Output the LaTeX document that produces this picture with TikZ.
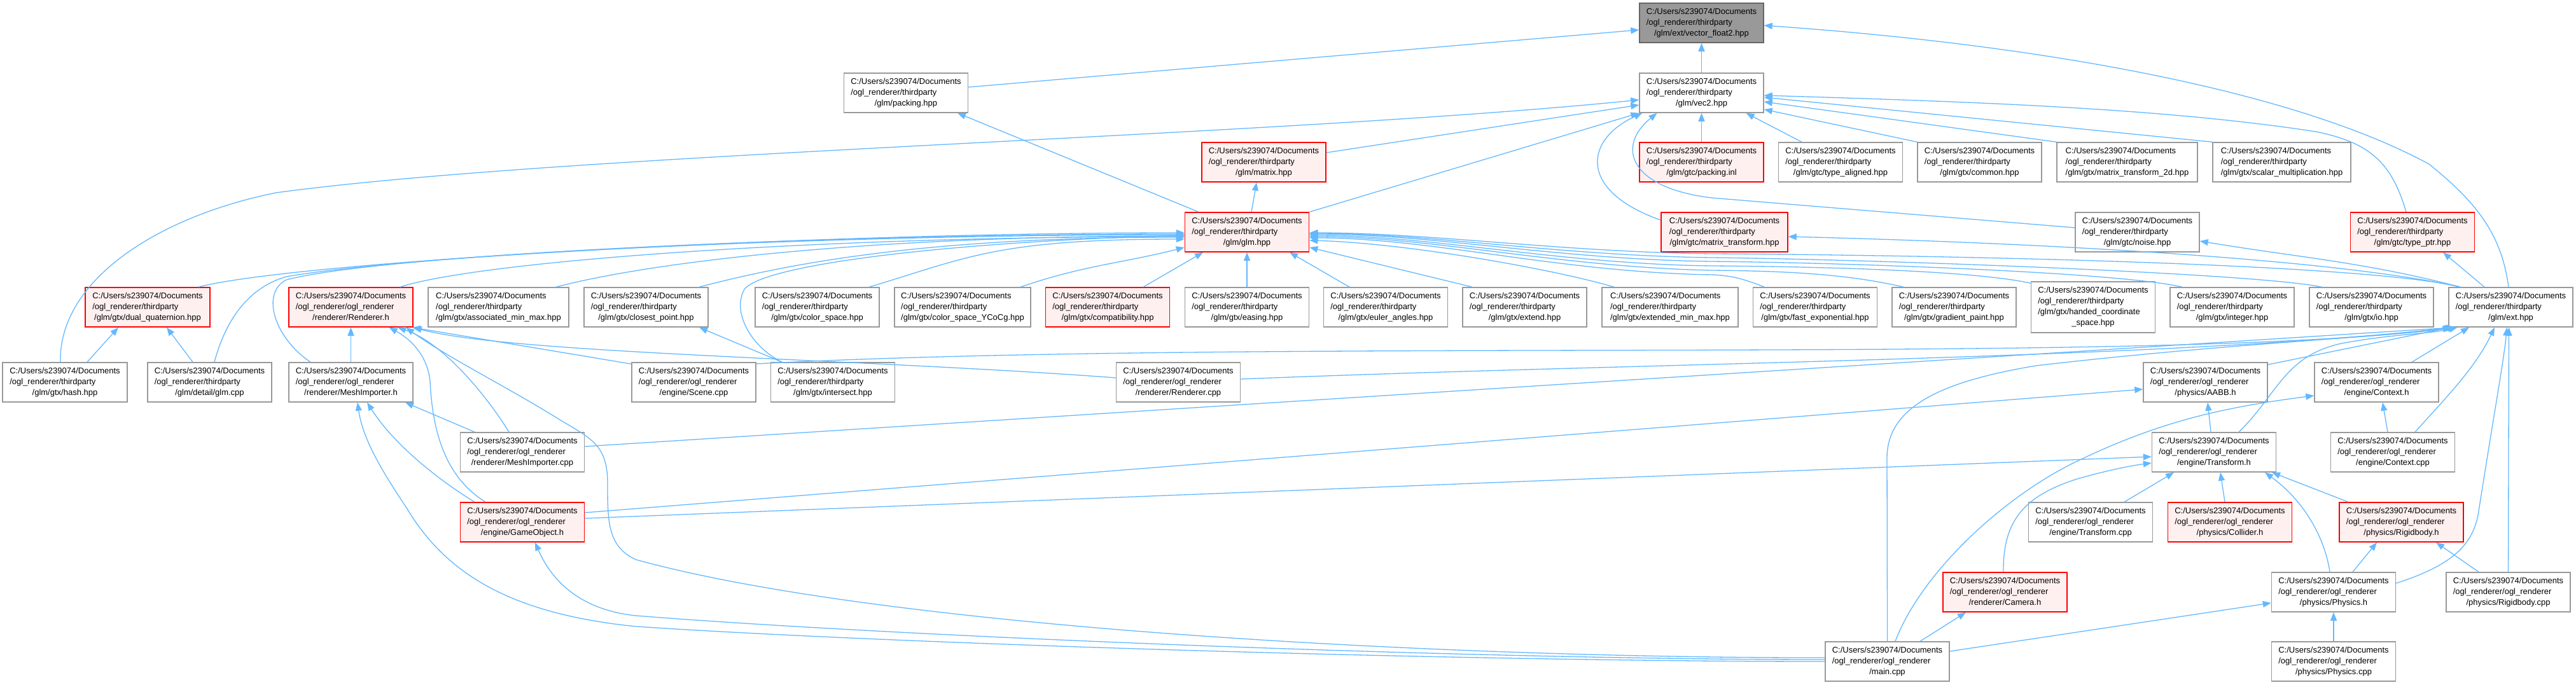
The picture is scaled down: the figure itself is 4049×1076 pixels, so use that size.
\documentclass[tikz,border=0pt]{standalone}
\usepackage{fontspec}
\setmainfont{Liberation Sans}
\usetikzlibrary{arrows.meta}
\definecolor{edgeblue}{HTML}{63B8FF}
\definecolor{boxgray}{HTML}{999999}
\definecolor{boxred}{HTML}{FF0000}
\definecolor{redfill}{HTML}{FFF0F0}
\definecolor{rootfill}{HTML}{999999}
\definecolor{rootline}{HTML}{666666}
\newcommand\lbl[3]{\begin{tabular}{@{}l@{}}#1\\#2\\\multicolumn{1}{@{}c@{}}{#3}\end{tabular}}
\newcommand\lblq[4]{\begin{tabular}{@{}l@{}}#1\\#2\\#3\\\multicolumn{1}{@{}c@{}}{#4}\end{tabular}}
\newcommand\cud{C:/Users/s239074/Documents}
\newcommand\otp{/ogl\_renderer/thirdparty}
\newcommand\oor{/ogl\_renderer/ogl\_renderer}
\tikzset{
  box/.style={draw=boxgray, fill=white, line width=1.5pt, inner sep=0pt,
    minimum width=195pt, minimum height=62pt, font=\fontsize{13}{17}\selectfont},
  redbox/.style={box, draw=boxred, fill=redfill},
  rootbox/.style={box, draw=rootline, fill=rootfill},
  wd/.style={minimum width=#1pt},
  edge/.style={draw=edgeblue, line width=1.3pt, -{Triangle[length=13pt,width=10pt]}}
}
\begin{document}
\begin{tikzpicture}[x=1pt,y=-1pt]
\useasboundingbox (0,0) rectangle (4049,1076);
% row 0
\node[rootbox] (vf2) at (2674.5,36) {\lbl{\cud}{\otp}{/glm/ext/vector\_float2.hpp}};
% row 1
\node[box] (packing) at (1424,146) {\lbl{\cud}{\otp}{/glm/packing.hpp}};
\node[box] (vec2) at (2674.5,146) {\lbl{\cud}{\otp}{/glm/vec2.hpp}};
% row 2
\node[redbox] (matrix) at (1986.5,255) {\lbl{\cud}{\otp}{/glm/matrix.hpp}};
\node[redbox] (packinl) at (2674.5,255) {\lbl{\cud}{\otp}{/glm/gtc/packing.inl}};
\node[box] (typealigned) at (2893,255) {\lbl{\cud}{\otp}{/glm/gtc/type\_aligned.hpp}};
\node[box] (common) at (3111.5,255) {\lbl{\cud}{\otp}{/glm/gtx/common.hpp}};
\node[box,wd=221] (mtwod) at (3343.5,255) {\lbl{\cud}{\otp}{/glm/gtx/matrix\_transform\_2d.hpp}};
\node[box,wd=217] (scalarmult) at (3586.5,255) {\lbl{\cud}{\otp}{/glm/gtx/scalar\_multiplication.hpp}};
% row 3
\node[redbox] (glm) at (1960,365) {\lbl{\cud}{\otp}{/glm/glm.hpp}};
\node[redbox,wd=199] (gtcmt) at (2710.5,365) {\lbl{\cud}{\otp}{/glm/gtc/matrix\_transform.hpp}};
\node[box] (noise) at (3359.5,365) {\lbl{\cud}{\otp}{/glm/gtc/noise.hpp}};
\node[redbox] (typeptr) at (3792,365) {\lbl{\cud}{\otp}{/glm/gtc/type\_ptr.hpp}};
% row 4
\node[redbox,wd=196] (dualq) at (232,483) {\lbl{\cud}{\otp}{/glm/gtx/dual\_quaternion.hpp}};
\node[redbox] (rendh) at (551.5,483) {\lbl{\cud}{\oor}{/renderer/Renderer.h}};
\node[box,wd=221] (assoc) at (783.5,483) {\lbl{\cud}{\otp}{/glm/gtx/associated\_min\_max.hpp}};
\node[box] (closest) at (1015.5,483) {\lbl{\cud}{\otp}{/glm/gtx/closest\_point.hpp}};
\node[box] (colorsp) at (1284.5,483) {\lbl{\cud}{\otp}{/glm/gtx/color\_space.hpp}};
\node[box,wd=214] (ycocg) at (1513,483) {\lbl{\cud}{\otp}{/glm/gtx/color\_space\_YCoCg.hpp}};
\node[redbox] (compat) at (1741,483) {\lbl{\cud}{\otp}{/glm/gtx/compatibility.hpp}};
\node[box] (easing) at (1960,483) {\lbl{\cud}{\otp}{/glm/gtx/easing.hpp}};
\node[box] (euler) at (2178,483) {\lbl{\cud}{\otp}{/glm/gtx/euler\_angles.hpp}};
\node[box] (extend) at (2396.5,483) {\lbl{\cud}{\otp}{/glm/gtx/extend.hpp}};
\node[box,wd=214] (extminmax) at (2625,483) {\lbl{\cud}{\otp}{/glm/gtx/extended\_min\_max.hpp}};
\node[box] (fastexp) at (2853,483) {\lbl{\cud}{\otp}{/glm/gtx/fast\_exponential.hpp}};
\node[box] (gradient) at (3071.5,483) {\lbl{\cud}{\otp}{/glm/gtx/gradient\_paint.hpp}};
\node[box,minimum height=80pt] (handed) at (3290,483) {\lblq{\cud}{\otp}{/glm/gtx/handed\_coordinate}{\_space.hpp}};
\node[box] (integer) at (3508.5,483) {\lbl{\cud}{\otp}{/glm/gtx/integer.hpp}};
\node[box] (io) at (3727.5,483) {\lbl{\cud}{\otp}{/glm/gtx/io.hpp}};
\node[box] (ext) at (3946.5,483) {\lbl{\cud}{\otp}{/glm/ext.hpp}};
% row 5
\node[box,wd=196] (hash) at (102,601) {\lbl{\cud}{\otp}{/glm/gtx/hash.hpp}};
\node[box] (glmcpp) at (329.5,601) {\lbl{\cud}{\otp}{/glm/detail/glm.cpp}};
\node[box] (meshh) at (551.5,601) {\lbl{\cud}{\oor}{/renderer/MeshImporter.h}};
\node[box] (scene) at (1090.5,601) {\lbl{\cud}{\oor}{/engine/Scene.cpp}};
\node[box] (intersect) at (1309,601) {\lbl{\cud}{\otp}{/glm/gtx/intersect.hpp}};
\node[box] (rendcpp) at (1852,601) {\lbl{\cud}{\oor}{/renderer/Renderer.cpp}};
\node[box] (aabb) at (3466.5,601) {\lbl{\cud}{\oor}{/physics/AABB.h}};
\node[box] (contexth) at (3735.5,601) {\lbl{\cud}{\oor}{/engine/Context.h}};
% row 6
\node[box] (meshcpp) at (821,711) {\lbl{\cud}{\oor}{/renderer/MeshImporter.cpp}};
\node[box] (transformh) at (3480,711) {\lbl{\cud}{\oor}{/engine/Transform.h}};
\node[box] (contextcpp) at (3761,711) {\lbl{\cud}{\oor}{/engine/Context.cpp}};
% row 7
\node[redbox] (gameobj) at (821,821) {\lbl{\cud}{\oor}{/engine/GameObject.h}};
\node[box] (transformcpp) at (3286,821) {\lbl{\cud}{\oor}{/engine/Transform.cpp}};
\node[redbox] (collider) at (3505,821) {\lbl{\cud}{\oor}{/physics/Collider.h}};
\node[redbox] (rigidh) at (3774.5,821) {\lbl{\cud}{\oor}{/physics/Rigidbody.h}};
% row 8
\node[redbox] (camera) at (3151.5,931) {\lbl{\cud}{\oor}{/renderer/Camera.h}};
\node[box] (physicsh) at (3668,931) {\lbl{\cud}{\oor}{/physics/Physics.h}};
\node[box] (rigidcpp) at (3942.5,931) {\lbl{\cud}{\oor}{/physics/Rigidbody.cpp}};
% row 9
\node[box] (maincpp) at (2966.5,1040) {\lbl{\cud}{\oor}{/main.cpp}};
\node[box] (physicscpp) at (3668,1040) {\lbl{\cud}{\oor}{/physics/Physics.cpp}};

% ---------- edges ----------
\draw[edge] ([yshift=9pt]packing.east) -- ([yshift=-11pt]vf2.west);
\draw[edge] (vec2) -- (vf2);
\draw[edge] ([xshift=-3.5pt]ext.north) .. controls (3932,370) and (3895,320) .. (3818,258) .. controls (3600,140) and (3200,70) .. ([yshift=-4pt]vf2.east);
\draw[edge] ([yshift=15pt]matrix.east) -- ([yshift=-19pt]vec2.west);
\draw[edge] (glm.north east) -- (vec2.south west);
\draw[edge] ([xshift=-7pt]hash.north) .. controls (92,440) and (250,340) .. (434,303) .. controls (900,240) and (2000,215) .. ([yshift=-11pt]vec2.west);
\draw[edge] (packinl) -- (vec2);
\draw[edge] ([xshift=-61pt]typealigned.north) -- ([xshift=70pt]vec2.south);
\draw[edge] (common.north west) -- ([yshift=-26pt]vec2.east);
\draw[edge] (mtwod.north west) -- ([yshift=-14pt]vec2.east);
\draw[edge] (scalarmult.north west) -- ([yshift=-7pt]vec2.east);
\draw[edge] ([xshift=-10pt]typeptr.north) .. controls (3760,260) and (3730,225) .. (3640,207) .. controls (3400,170) and (3100,160) .. ([yshift=-4pt]vec2.east);
\draw[edge] ([yshift=19pt]gtcmt.west) .. controls (2480,300) and (2490,220) .. ([xshift=5pt]vec2.south west);
\draw[edge] ([yshift=7pt]noise.west) -- (2690,311) .. controls (2560,295) and (2540,230) .. ([xshift=-70pt]vec2.south);
\draw[edge] ([xshift=-76pt]glm.north) -- ([xshift=81pt]packing.south);
\draw[edge] ([xshift=7pt]glm.north) -- ([xshift=-11.5pt]matrix.south);
% into glm (left)
\draw[edge] ([xshift=80pt]dualq.north) .. controls (462,412) and (1263,366) .. ([yshift=-1pt]glm.west);
\draw[edge] ([xshift=77.5pt]rendh.north) .. controls (749,412) and (1263,372) .. ([yshift=-7pt]glm.west);
\draw[edge] ([xshift=-63.5pt]meshh.north) .. controls (430,530) and (410,460) .. (450,440) .. controls (600,400) and (1300,368) .. ([yshift=-3pt]glm.west);
\draw[edge] ([xshift=7.5pt]glmcpp.north) .. controls (350,520) and (380,455) .. (450,435) .. controls (650,400) and (1300,369) .. ([yshift=-4pt]glm.west);
\draw[edge] ([xshift=-80pt]intersect.north) .. controls (1180,545) and (1150,490) .. (1170,455) .. controls (1200,415) and (1500,380) .. ([yshift=-5pt]glm.west);
\draw[edge] ([xshift=90.5pt]assoc.north) .. controls (1024,412) and (1363,371) .. ([yshift=-6pt]glm.west);
\draw[edge] ([xshift=83.5pt]closest.north) .. controls (1249,412) and (1463,373) .. ([yshift=-8pt]glm.west);
\draw[edge] ([xshift=81.5pt]colorsp.north) .. controls (1516,407) and (1563,376) .. ([yshift=-11pt]glm.west);
\draw[edge] ([xshift=91pt]ycocg.north) .. controls (1704,417) and (1763,414) .. ([yshift=-24pt]glm.west);
\draw[edge] ([xshift=56pt]compat.north) -- ([xshift=-69pt]glm.south);
\draw[edge] (easing) -- (glm);
% into glm (right)
\draw[edge] ([xshift=-57pt]euler.north) -- ([xshift=67pt]glm.south);
\draw[edge] ([xshift=-82.5pt]extend.north) -- ([yshift=-24pt]glm.east);
\draw[edge] ([xshift=-88pt]extminmax.north) .. controls (2437,422) and (2207,382) .. ([yshift=-13pt]glm.east);
\draw[edge] ([xshift=-80pt]fastexp.north) .. controls (2740,438) and (2720,433) .. (2690,432) .. controls (2450,428) and (2250,374) .. ([yshift=-9pt]glm.east);
\draw[edge] ([xshift=-79.5pt]gradient.north) .. controls (2900,430) and (2800,426) .. (2690,425) .. controls (2450,420) and (2250,372) .. ([yshift=-7pt]glm.east);
\draw[edge] ([yshift=-3pt]handed.north west) .. controls (3100,425) and (2850,419) .. (2690,418) .. controls (2450,415) and (2250,370) .. ([yshift=-5pt]glm.east);
\draw[edge] ([xshift=-78.5pt]integer.north) .. controls (3330,428) and (2900,413) .. (2690,411) .. controls (2450,408) and (2250,368) .. ([yshift=-3pt]glm.east);
\draw[edge] ([xshift=-78.5pt]io.north) .. controls (3550,430) and (2950,408) .. (2690,405) .. controls (2450,402) and (2250,367) .. ([yshift=-2pt]glm.east);
\draw[edge] ([xshift=-79.5pt]ext.north) .. controls (3700,410) and (2900,400) .. (2690,399) .. controls (2450,396) and (2250,366) .. ([yshift=-1pt]glm.east);
\draw[edge] ([xshift=-79.5pt]ext.north) .. controls (3717,412) and (3607,404) .. ([yshift=-14pt]noise.east);
\draw[edge] ([xshift=-79.5pt]ext.north) .. controls (3667,407) and (3210,382) .. ([yshift=-7pt]gtcmt.east);
\draw[edge] ([xshift=-41.5pt]ext.north) -- ([xshift=48pt]typeptr.south);
% lower left
\draw[edge] ([xshift=35pt]hash.north) -- ([xshift=-46pt]dualq.south);
\draw[edge] ([xshift=-26.5pt]glmcpp.north) -- ([xshift=30pt]dualq.south);
\draw[edge] (meshh) -- (rendh);
\draw[edge] ([xshift=-80pt]intersect.north) -- ([xshift=83.5pt]closest.south);
\draw[edge] ([yshift=-3pt]scene.north west) -- ([xshift=-2pt]rendh.south east);
\draw[edge] ([yshift=7pt]rendcpp.west) .. controls (1355,564) and (800,556) .. (rendh.south east);
\draw[edge] ([xshift=-21pt]meshcpp.north) .. controls (770,630) and (700,540) .. ([xshift=73.5pt]rendh.south);
\draw[edge] ([xshift=-58pt]gameobj.north) .. controls (700,750) and (680,680) .. (676,600) .. controls (672,555) and (640,530) .. ([xshift=60pt]rendh.south);
\draw[edge] ([yshift=6pt]maincpp.west) .. controls (2300,1035) and (1400,990) .. (1000,880) .. controls (955,860) and (955,820) .. (955,760) .. controls (955,700) and (930,690) .. (880,660) .. controls (800,610) and (700,560) .. ([xshift=86.5pt]rendh.south);
\draw[edge] (maincpp.west) .. controls (2300,1040) and (1400,1012) .. (1000,985) .. controls (800,965) and (700,900) .. (640,800) .. controls (600,740) and (570,690) .. ([xshift=10.5pt]meshh.south);
\draw[edge] ([yshift=3pt]maincpp.west) .. controls (2300,1037) and (1400,1000) .. (1000,968) .. controls (920,960) and (870,920) .. ([xshift=20pt]gameobj.south);
\draw[edge] ([xshift=-75pt]gameobj.north) .. controls (690,755) and (620,700) .. ([xshift=25.5pt]meshh.south);
\draw[edge] ([xshift=-75pt]meshcpp.north) -- ([xshift=85.5pt]meshh.south);
\draw[edge] ([yshift=15pt]gameobj.east) -- ([yshift=-11pt]aabb.west);
\draw[edge] ([yshift=6pt]gameobj.east) -- ([yshift=-7pt]transformh.west);
% into ext (bottom)
\draw[edge] ([yshift=9pt]meshcpp.east) -- ([xshift=-88pt]ext.south);
\draw[edge] ([yshift=29pt]scene.east) .. controls (2000,530) and (3400,575) .. ([xshift=-92pt]ext.south);
\draw[edge] ([yshift=5pt]rendcpp.east) .. controls (2600,570) and (3400,565) .. ([xshift=-90pt]ext.south);
\draw[edge] (maincpp.north) -- (2966,720) .. controls (2966,640) and (3050,600) .. (3200,575) .. controls (3500,540) and (3750,530) .. ([xshift=-86pt]ext.south);
\draw[edge] ([yshift=-4pt]aabb.north east) -- ([xshift=-94pt]ext.south);
\draw[edge] ([xshift=55.5pt]contexth.north) -- ([xshift=-65.5pt]ext.south);
\draw[edge] ([xshift=39pt]transformh.north) .. controls (3580,620) and (3590,560) .. (3680,540) .. controls (3760,525) and (3820,525) .. ([xshift=-84pt]ext.south);
\draw[edge] ([xshift=35pt]contextcpp.north) .. controls (3840,630) and (3890,580) .. ([xshift=-25.5pt]ext.south);
\draw[edge] ([yshift=14pt]physicsh.east) .. controls (3850,890) and (3885,860) .. (3895,810) .. controls (3920,650) and (3935,570) .. ([xshift=-6pt]ext.south);
\draw[edge] (rigidcpp.north) -- ([xshift=-3pt]ext.south);
% lower right
\draw[edge] ([xshift=-5pt]transformh.north) -- ([xshift=3.5pt]aabb.south);
\draw[edge] ([xshift=12.5pt]maincpp.north) .. controls (3020,900) and (3150,780) .. (3265,725) .. controls (3400,660) and (3500,640) .. ([yshift=-21pt]contexth.west);
\draw[edge] ([xshift=-8pt]contextcpp.north) -- ([xshift=9.5pt]contexth.south);
\draw[edge] ([xshift=-2.5pt]camera.north) .. controls (3148,820) and (3180,780) .. (3265,753) .. controls (3310,740) and (3350,732) .. ([yshift=-17pt]transformh.west);
\draw[edge] ([xshift=53pt]transformcpp.north) -- ([xshift=-63pt]transformh.south);
\draw[edge] ([xshift=-8pt]collider.north) -- ([xshift=10pt]transformh.south);
\draw[edge] ([xshift=-6pt]physicsh.north) .. controls (3655,850) and (3625,790) .. ([xshift=80pt]transformh.south);
\draw[edge] ([xshift=-83.5pt]rigidh.north) -- ([xshift=91pt]transformh.south);
\draw[edge] ([xshift=30pt]physicsh.north) -- ([xshift=-38.5pt]rigidh.south);
\draw[edge] ([xshift=-46.5pt]rigidcpp.north) -- ([xshift=54.5pt]rigidh.south);
\draw[edge] ([yshift=16pt]maincpp.east) -- ([yshift=-17pt]physicsh.west);
\draw[edge] (physicscpp) -- (physicsh);
\draw[edge] ([xshift=51.5pt]maincpp.north) -- ([xshift=-61.5pt]camera.south);
\end{tikzpicture}
\end{document}
